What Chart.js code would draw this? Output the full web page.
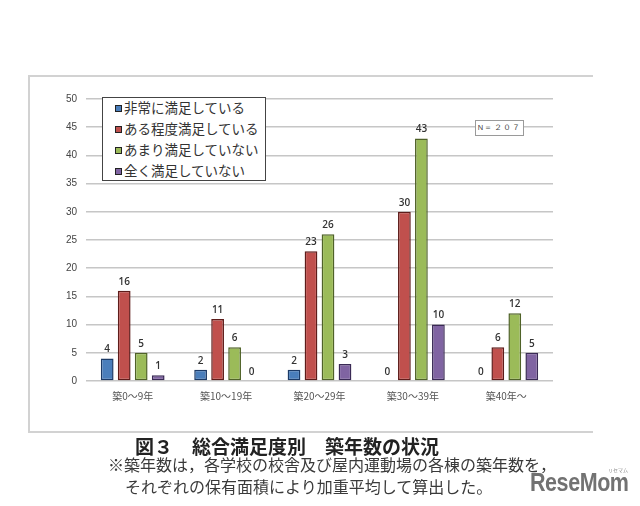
<!DOCTYPE html>
<html lang="ja">
<head>
<meta charset="utf-8">
<script src="https://cdn.jsdelivr.net/npm/chart.js@4.4.1/dist/chart.umd.min.js"></script>
<style>
  html, body { margin: 0; padding: 0; background: #fff; }
  body { width: 640px; height: 506px; position: relative; overflow: hidden;
         font-family: "Noto Sans CJK JP", "Noto Sans", sans-serif; }
  #frame { position: absolute; left: 28px; top: 75px; width: 565px; height: 358px;
           box-sizing: border-box; border-left: 2px solid #d2d2d2; border-top: 2px solid #d2d2d2;
           border-bottom: 2px solid #d2d2d2; }
  #box { position: absolute; left: 29px; top: 76px; width: 564px; height: 357px; }
  #legend { position: absolute; left: 102px; top: 97px; width: 162px; height: 82px;
            border: 1px solid #444; background: #fff; }
  .row { position: absolute; left: 12px; height: 20px; line-height: 20px; font-size: 13.5px;
         color: #333; white-space: nowrap; }
  .mk { display: inline-block; width: 5px; height: 5px; border: 1px solid #222; margin-right: 2px;
        vertical-align: 1px; }
  #nbox { position: absolute; left: 475px; top: 120px; width: 49px; height: 16px; box-sizing: border-box;
          border: 1px solid #9a9a9a; background: #fff; font: 7.5px "Liberation Sans", sans-serif;
          color: #444; text-align: center; line-height: 14px; letter-spacing: 1.2px; }
  .txt { position: absolute; white-space: nowrap; }
  #title { left: 135px; top: 436px; font-size: 19px; line-height: 20px; color: #222; font-weight: bold; }
  #cap1 { left: 108px; top: 455px; font-size: 16px; line-height: 18px; color: #3a3a3a; }
  #cap2 { left: 125px; top: 477px; font-size: 16px; line-height: 18px; color: #3a3a3a; }
  #logo { left: 530px; top: 468px; font: bold 25px "Liberation Sans", sans-serif;
          color: #727272; letter-spacing: -0.5px; transform: scaleX(0.86); transform-origin: 0 0; }
  #logo-sub { left: 608px; top: 466px; font-size: 5px; color: #888; }
</style>
</head>
<body>
<div id="frame"></div>
<div id="box"><canvas id="grafico"></canvas></div>
<div id="legend"></div>
<div id="nbox">N＝２０７</div>
<div class="txt" id="title">図３　総合満足度別　築年数の状況</div>
<div class="txt" id="cap1">※築年数は，各学校の校舎及び屋内運動場の各棟の築年数を，</div>
<div class="txt" id="cap2">それぞれの保有面積により加重平均して算出した。</div>
<div class="txt" id="logo">ReseMom</div>
<div class="txt" id="logo-sub">リセマム</div>
<script>
// dados
const categorias = ['築0～9年', '築10～19年', '築20～29年', '築30～39年', '築40年～'];
const nomesSeries = ['非常に満足している', 'ある程度満足している', 'あまり満足していない', '全く満足していない'];
const muitoSatisfeito = [4, 2, 2, 0, 0];
const satisfeito = [16, 11, 23, 30, 6];
const poucoSatisfeito = [5, 6, 26, 43, 12];
const insatisfeito = [1, 0, 3, 10, 5];
const yMax = 50;
const yPasso = 5;

const coresFundo = ['#4a7ebb', '#c0504d', '#9bbb59', '#8064a2'];
const coresBorda = ['#1c3a66', '#5e1c1a', '#4f6228', '#3a2a55'];

// legenda em HTML
const legenda = document.getElementById('legend');
const linhasY = [-1, 20, 41, 62];
nomesSeries.forEach((nome, i) => {
    const row = document.createElement('div');
    row.className = 'row';
    row.style.top = linhasY[i] + 'px';
    row.innerHTML = `<span class="mk" style="background:${coresFundo[i]}"></span>${nome}`;
    legenda.appendChild(row);
});

// rótulos de valor acima das barras
const rotulosPlugin = {
    id: 'rotulos',
    afterDatasetsDraw(chart) {
        const ctx = chart.ctx;
        ctx.save();
        ctx.font = '600 10px "Open Sans", sans-serif';
        ctx.fillStyle = '#333';
        ctx.textAlign = 'center';
        ctx.textBaseline = 'bottom';
        chart.data.datasets.forEach((ds, i) => {
            chart.getDatasetMeta(i).data.forEach((bar, j) => {
                ctx.fillText(String(ds.data[j]), bar.x, bar.y - 4);
            });
        });
        ctx.restore();
    }
};

const todasSeries = [muitoSatisfeito, satisfeito, poucoSatisfeito, insatisfeito];
const datasets = todasSeries.map((valores, i) => ({
    label: nomesSeries[i],
    data: valores,
    backgroundColor: coresFundo[i],
    borderColor: coresBorda[i],
    borderWidth: c => (c.raw === 0 ? 0 : 1.5),
    borderSkipped: false,
    categoryPercentage: 0.728,
    barPercentage: 0.75,
}));

new Chart(document.getElementById('grafico'), {
    type: 'bar',
    data: { labels: categorias, datasets },
    options: {
        responsive: true,
        maintainAspectRatio: false,
        animation: false,
        layout: { padding: { top: 23, right: 40, left: 0, bottom: 0 } },
        plugins: { legend: { display: false }, tooltip: { enabled: false } },
        scales: {
            x: {
                grid: { display: false, drawTicks: false },
                border: { display: false },
                ticks: { padding: 9, color: '#555',
                         font: { size: 10, family: '"Noto Sans CJK JP", sans-serif' } },
                afterFit: s => { s.height = 52; },
            },
            y: {
                min: 0,
                max: yMax,
                grid: { color: '#c6c6c6', lineWidth: 1.5, drawTicks: false },
                border: { display: false },
                ticks: { stepSize: yPasso, padding: 9, color: '#444',
                         font: { size: 10, family: '"Liberation Sans", sans-serif' } },
                afterFit: s => { s.width = 57; },
            },
        },
    },
    plugins: [rotulosPlugin],
});
</script>
</body>
</html>
